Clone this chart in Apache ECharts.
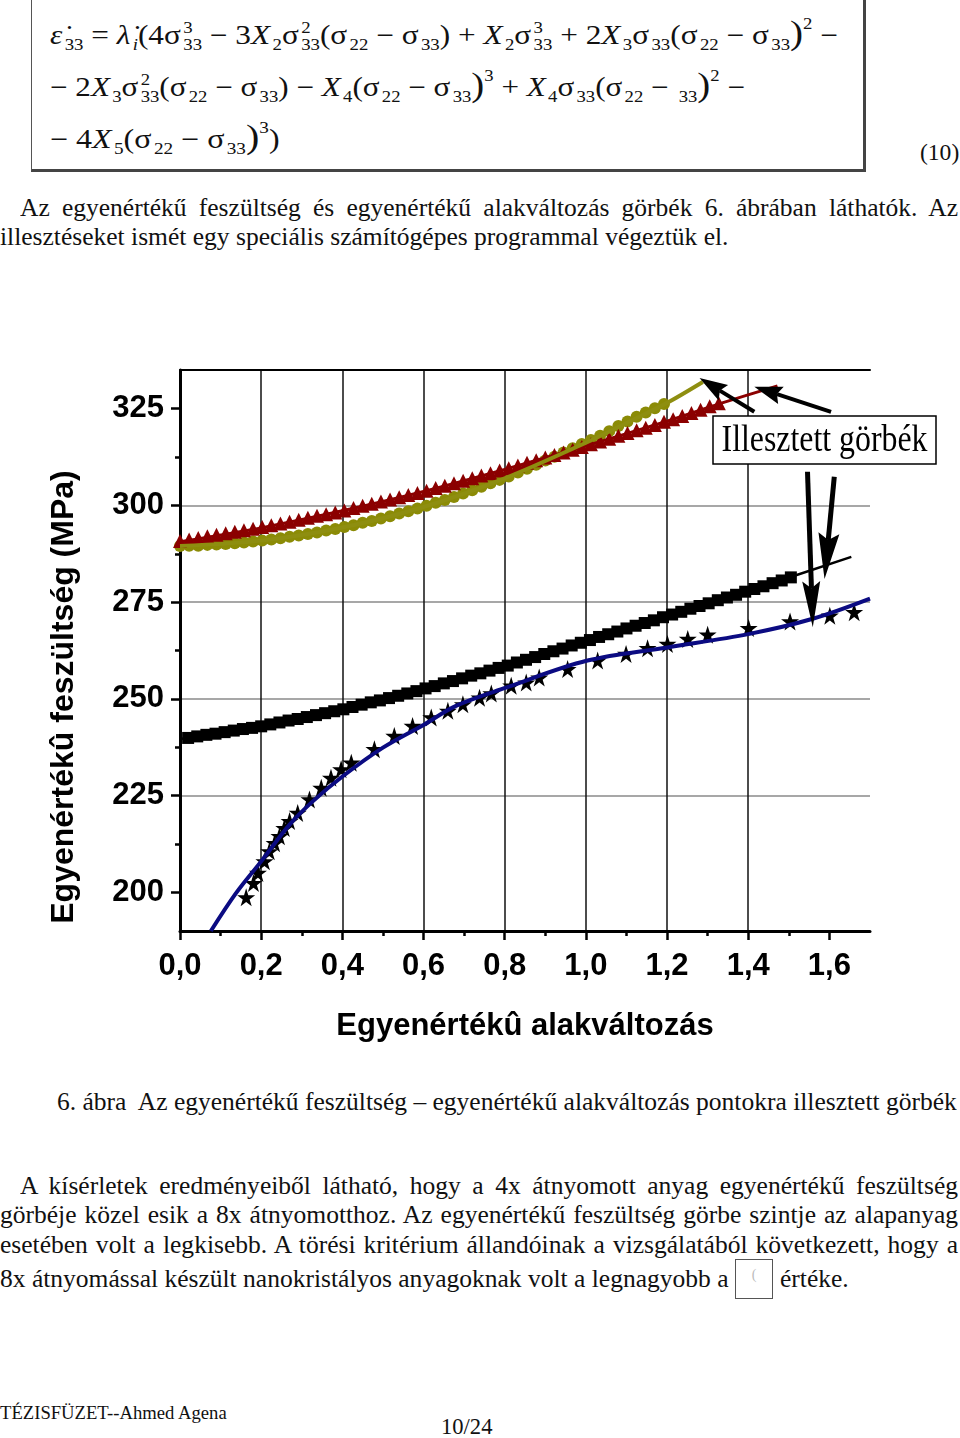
<!DOCTYPE html>
<html>
<head>
<meta charset="utf-8">
<script src="https://cdn.jsdelivr.net/npm/echarts@6.0.0/dist/echarts.min.js"></script>
<style>
  html,body{margin:0;padding:0;background:#fff;}
  body{width:960px;height:1438px;position:relative;overflow:hidden;}
  .t{position:absolute;white-space:nowrap;font-family:'Liberation Serif','Times New Roman',serif;font-size:26px;line-height:30px;color:#111;transform-origin:0 0;}
  .j{white-space:normal;text-align:justify;text-align-last:justify;}
  .eq{position:absolute;white-space:nowrap;font-family:'Liberation Serif','Times New Roman',serif;font-size:27px;line-height:30px;color:#111;transform-origin:0 0;}
  .eq sub{font-size:0.6em;vertical-align:-0.4em;line-height:0;margin-left:2px;}
  .eq sup{font-size:0.6em;vertical-align:0.95em;line-height:0;}
  .ss{display:inline-block;font-size:0.6em;line-height:1.05;vertical-align:-0.4em;margin-left:2px;}
  .ss b{display:block;font-weight:normal;}
  .bp{font-size:1.25em;line-height:0;}
  #eqbox{position:absolute;left:31px;top:-2px;width:831px;height:170px;border:1.5px solid #555;border-right:3px solid #444;border-bottom:3px solid #444;}
  #imgbox{position:absolute;left:735px;top:1259px;width:36px;height:38px;border:1px solid #555;font-family:'Liberation Serif',serif;font-size:14px;color:#bbb;text-align:center;line-height:30px;}
  #chart{position:absolute;left:0;top:330px;width:960px;height:730px;}
</style>
</head>
<body>
<div id="eqbox"></div>
<div class="eq fit" data-w="788" style="left:50px;top:20px"><i>ε̇</i><sub>33</sub> = <i>λ̇</i><sub><i>i</i></sub>(4σ<span class="ss"><b>3</b><b>33</b></span> − 3<i>X</i><sub>2</sub>σ<span class="ss"><b>2</b><b>33</b></span>(σ<sub>22</sub> − σ<sub>33</sub>) + <i>X</i><sub>2</sub>σ<span class="ss"><b>3</b><b>33</b></span> + 2<i>X</i><sub>3</sub>σ<sub>33</sub>(σ<sub>22</sub> − σ<sub>33</sub><span class="bp">)</span><sup>2</sup> −</div>
<div class="eq fit" data-w="695" style="left:50px;top:72px">− 2<i>X</i><sub>3</sub>σ<span class="ss"><b>2</b><b>33</b></span>(σ<sub>22</sub> − σ<sub>33</sub>) − <i>X</i><sub>4</sub>(σ<sub>22</sub> − σ<sub>33</sub><span class="bp">)</span><sup>3</sup> + <i>X</i><sub>4</sub>σ<sub>33</sub>(σ<sub>22</sub> − <sub>33</sub><span class="bp">)</span><sup>2</sup> −</div>
<div class="eq fit" data-w="230" style="left:50px;top:124px">− 4<i>X</i><sub>5</sub>(σ<sub>22</sub> − σ<sub>33</sub><span class="bp">)</span><sup>3</sup>)</div>
<div class="t" style="left:920px;top:137px;font-size:24px">(10)</div>

<div class="t j" data-w="938" style="left:20px;top:193px">Az egyenértékű feszültség és egyenértékű alakváltozás görbék 6. ábrában láthatók. Az</div>
<div class="t" style="left:0px;top:222px">illesztéseket ismét egy speciális számítógépes programmal végeztük el.</div>

<div id="chart"></div>

<div class="t" id="cap" style="left:57px;top:1087px">6. ábra&nbsp; Az egyenértékű feszültség – egyenértékű alakváltozás pontokra illesztett görbék</div>

<div class="t j" data-w="938" style="left:20px;top:1171px">A kísérletek eredményeiből látható, hogy a 4x átnyomott anyag egyenértékű feszültség</div>
<div class="t j" data-w="958" style="left:0px;top:1200px">görbéje közel esik a 8x átnyomotthoz. Az egyenértékű feszültség görbe szintje az alapanyag</div>
<div class="t j" data-w="958" style="left:0px;top:1230px">esetében volt a legkisebb. A törési kritérium állandóinak a vizsgálatából következett, hogy a</div>
<div class="t" style="left:0px;top:1264px">8x átnyomással készült nanokristályos anyagoknak volt a legnagyobb a</div>
<div id="imgbox">(</div>
<div class="t" style="left:780px;top:1264px">értéke.</div>

<div class="t" style="left:0px;top:1402px;font-size:19px;line-height:22px">TÉZISFÜZET--Ahmed Agena</div>
<div class="t" style="left:441px;top:1414px;font-size:23px;line-height:26px">10/24</div>

<script>
// ---------- data ----------
const xMajorTicks = [0, 0.2, 0.4, 0.6, 0.8, 1.0, 1.2, 1.4, 1.6];
const xMinorTicks = [0.1, 0.3, 0.5, 0.7, 0.9, 1.1, 1.3, 1.5];
const yMajorTicks = [200, 225, 250, 275, 300, 325];
const yMinorTicks = [212.5, 237.5, 262.5, 287.5, 312.5];

// dark red triangles
const triStrain = [0, 0.0225, 0.045, 0.0675, 0.09, 0.1125, 0.135, 0.1575, 0.18, 0.2025, 0.225, 0.2475, 0.27, 0.2925, 0.315, 0.3375, 0.36, 0.3825, 0.405, 0.4275, 0.45, 0.4725, 0.495, 0.5175, 0.54, 0.5625, 0.585, 0.6075, 0.63, 0.6525, 0.675, 0.6975, 0.72, 0.7425, 0.765, 0.7875, 0.81, 0.8325, 0.855, 0.8775, 0.9, 0.9225, 0.945, 0.9675, 0.99, 1.0125, 1.035, 1.0575, 1.08, 1.1025, 1.125, 1.1475, 1.17, 1.1925, 1.215, 1.2375, 1.26, 1.2825, 1.305, 1.3275];
const triStress = [290.8, 291.2, 291.6, 292.0, 292.4, 292.8, 293.2, 293.6, 294.0, 294.4, 294.9, 295.3, 295.8, 296.3, 296.8, 297.3, 297.7, 298.2, 298.7, 299.3, 299.9, 300.4, 301.0, 301.5, 302.1, 302.7, 303.2, 303.8, 304.5, 305.1, 305.7, 306.4, 307.0, 307.7, 308.3, 309.0, 309.6, 310.3, 311.0, 311.7, 312.4, 313.0, 313.7, 314.4, 315.1, 315.8, 316.5, 317.2, 318.0, 318.7, 319.4, 320.1, 320.8, 321.6, 322.3, 323.1, 323.9, 324.7, 325.6, 326.4];

// olive circles
const cirStrain = [0, 0.0225, 0.045, 0.0675, 0.09, 0.1125, 0.135, 0.1575, 0.18, 0.2025, 0.225, 0.2475, 0.27, 0.2925, 0.315, 0.3375, 0.36, 0.3825, 0.405, 0.4275, 0.45, 0.4725, 0.495, 0.5175, 0.54, 0.5625, 0.585, 0.6075, 0.63, 0.6525, 0.675, 0.6975, 0.72, 0.7425, 0.765, 0.7875, 0.81, 0.8325, 0.855, 0.8775, 0.9, 0.9225, 0.945, 0.9675, 0.99, 1.0125, 1.035, 1.0575, 1.08, 1.1025, 1.125, 1.1475, 1.17, 1.1925];
const cirStress = [289.5, 289.6, 289.6, 289.8, 289.9, 290.0, 290.2, 290.4, 290.7, 290.9, 291.2, 291.5, 291.9, 292.2, 292.6, 293.0, 293.5, 293.9, 294.4, 294.9, 295.5, 296.0, 296.6, 297.2, 297.9, 298.5, 299.2, 299.9, 300.7, 301.4, 302.2, 303.1, 303.9, 304.8, 305.7, 306.6, 307.5, 308.5, 309.5, 310.5, 311.6, 312.6, 313.7, 314.8, 315.9, 316.9, 318.0, 319.2, 320.5, 321.7, 322.9, 324.0, 325.1, 326.2];

// black squares
const sqStrain = [0.02, 0.0425, 0.065, 0.0875, 0.11, 0.1325, 0.155, 0.1775, 0.2, 0.2225, 0.245, 0.2675, 0.29, 0.3125, 0.335, 0.3575, 0.38, 0.4025, 0.425, 0.4475, 0.47, 0.4925, 0.515, 0.5375, 0.56, 0.5825, 0.605, 0.6275, 0.65, 0.6725, 0.695, 0.7175, 0.74, 0.7625, 0.785, 0.8075, 0.83, 0.8525, 0.875, 0.8975, 0.92, 0.9425, 0.965, 0.9875, 1.01, 1.0325, 1.055, 1.0775, 1.1, 1.1225, 1.145, 1.1675, 1.19, 1.2125, 1.235, 1.2575, 1.28, 1.3025, 1.325, 1.3475, 1.37, 1.3925, 1.415, 1.4375, 1.46, 1.4825, 1.505];
const sqStress = [239.9, 240.3, 240.7, 241.0, 241.4, 241.8, 242.2, 242.5, 242.9, 243.4, 243.9, 244.4, 244.8, 245.3, 245.8, 246.3, 246.8, 247.3, 247.9, 248.5, 249.1, 249.6, 250.2, 250.8, 251.4, 252.0, 252.7, 253.3, 254.0, 254.6, 255.3, 256.0, 256.6, 257.3, 258.0, 258.6, 259.4, 260.1, 260.8, 261.6, 262.3, 263.0, 263.8, 264.5, 265.2, 266.0, 266.7, 267.4, 268.2, 268.9, 269.6, 270.3, 271.1, 271.8, 272.5, 273.3, 274.0, 274.7, 275.5, 276.2, 276.9, 277.7, 278.4, 279.1, 279.9, 280.6, 281.4];

// black stars
const starStrain = [0.163, 0.181, 0.192, 0.208, 0.220, 0.233, 0.245, 0.257, 0.270, 0.290, 0.319, 0.348, 0.372, 0.397, 0.422, 0.479, 0.528, 0.573, 0.619, 0.660, 0.697, 0.738, 0.767, 0.816, 0.853, 0.885, 0.955, 1.029, 1.099, 1.152, 1.201, 1.251, 1.300, 1.401, 1.503, 1.601, 1.661];
const starStress = [198.7, 202.4, 205.0, 208.0, 210.6, 212.7, 214.5, 216.6, 218.4, 220.5, 224.0, 227.0, 229.6, 231.8, 233.5, 237.0, 240.4, 243.0, 245.2, 246.9, 248.6, 250.3, 251.4, 253.4, 254.2, 255.5, 257.7, 259.9, 261.6, 263.1, 264.2, 265.5, 266.6, 268.3, 270.0, 271.5, 272.4];

// fitted curves ("Illesztett görbék")
const redFitStrain = [0, 0.2, 0.4, 0.6, 0.8, 1.0, 1.2, 1.33, 1.472];
const redFitStress = [290.6, 294.2, 298.6, 303.6, 309.3, 315.4, 321.8, 326.3, 330.9];
const oliveFitStrain = [0, 0.2, 0.4, 0.6, 0.8, 1.0, 1.1, 1.2, 1.288];
const oliveFitStress = [289.5, 290.9, 294.3, 299.6, 307.0, 316.2, 321.3, 326.5, 331.9];
const blackFitStrain = [0, 0.2, 0.4, 0.6, 0.8, 1.0, 1.2, 1.4, 1.654];
const blackFitStress = [239.6, 242.9, 247.2, 252.5, 258.4, 264.9, 271.4, 277.9, 286.7];
const blueFitStrain = [0.076, 0.138, 0.200, 0.270, 0.327, 0.401, 0.500, 0.602, 0.680, 0.803, 1.004, 1.201, 1.403, 1.559, 1.700];
const blueFitStress = [190.0, 199.8, 208.0, 217.5, 223.5, 230.0, 237.4, 243.4, 248.2, 252.9, 259.9, 263.3, 266.8, 270.7, 275.9];

// annotation arrows (data coordinates: tail -> tip)
const arrowTails = [[1.415, 324.2], [1.604, 324.2], [1.546, 308.7], [1.612, 307.4]];
const arrowTips  = [[1.280, 332.9], [1.415, 330.7], [1.559, 268.5], [1.588, 281.0]];
const arrowHeads = [[28, 18], [28, 18], [46, 18], [46, 21]];

const xTitle = 'Egyenértékû alakváltozás';
const yTitle = 'Egyenértékû feszültség (MPa)';
const noteText = 'Illesztett görbék';

// ---------- page text fitting ----------
(function fitText(){
  const cap = document.getElementById('cap');
  const s = 900 / cap.offsetWidth;
  document.querySelectorAll('.t').forEach(el => {
    if (el.classList.contains('j')) el.style.width = (+el.dataset.w / s) + 'px';
    el.style.transform = 'scaleX(' + s + ')';
  });
  document.querySelectorAll('.fit').forEach(el => {
    const k = +el.dataset.w / el.offsetWidth;
    el.style.transform = 'scaleX(' + k + ')';
  });
})();

// ---------- chart ----------
const zip = (a, b) => a.map((v, i) => [v, b[i]]);
const FONT = "'Liberation Sans', Arial, sans-serif";
const STAR = 'path://M50,0 L61.2,34.5 L97.6,34.5 L68.2,55.9 L79.4,90.5 L50,69.1 L20.6,90.5 L31.8,55.9 L2.4,34.5 L38.8,34.5 Z';

const chart = echarts.init(document.getElementById('chart'), null, {renderer: 'canvas'});
const labelStyle = {fontFamily: FONT, fontWeight: 'bold', fontSize: 31, color: '#000'};

const option = {
  animation: false,
  backgroundColor: 'transparent',
  grid: {left: 180, top: 40, width: 690, height: 561, containLabel: false, outerBoundsMode: 'none'},
  xAxis: [
    {
      type: 'value', min: 0, max: 1.7, position: 'bottom',
      name: xTitle, nameLocation: 'middle', nameGap: 80,
      nameTextStyle: {fontFamily: FONT, fontWeight: 'bold', fontSize: 31, color: '#000'},
      axisLine: {show: true, onZero: false, lineStyle: {color: '#000', width: 3}},
      axisTick: {show: true, customValues: xMajorTicks, length: 9, lineStyle: {color: '#000', width: 2.5}},
      axisLabel: Object.assign({customValues: xMajorTicks, margin: 20,
        formatter: v => v.toFixed(1).replace('.', ',')}, labelStyle),
      splitLine: {show: true, showMinLine: false, showMaxLine: false, lineStyle: {color: '#111', width: 1.5}}
    },
    {
      type: 'value', min: 0, max: 1.7, position: 'bottom',
      axisLine: {show: false, onZero: false},
      axisTick: {show: true, customValues: xMinorTicks, length: 5, lineStyle: {color: '#000', width: 2.5}},
      axisLabel: {show: false}, splitLine: {show: false}
    },
    {
      type: 'value', min: 0, max: 1.7, position: 'top',
      axisLine: {show: true, onZero: false, lineStyle: {color: '#000', width: 2}},
      axisTick: {show: false}, axisLabel: {show: false}, splitLine: {show: false}
    }
  ],
  yAxis: [
    {
      type: 'value', min: 190, max: 335, position: 'left',
      axisLine: {show: true, onZero: false, lineStyle: {color: '#000', width: 3}},
      axisTick: {show: true, customValues: yMajorTicks, length: 9, lineStyle: {color: '#000', width: 2.5}},
      axisLabel: Object.assign({customValues: yMajorTicks, margin: 16}, labelStyle),
      splitLine: {show: true, showMinLine: false, showMaxLine: false, lineStyle: {color: '#8a8a8a', width: 1.5}}
    },
    {
      type: 'value', min: 190, max: 335, position: 'left',
      axisLine: {show: false, onZero: false},
      axisTick: {show: true, customValues: yMinorTicks, length: 5, lineStyle: {color: '#000', width: 2.5}},
      axisLabel: {show: false}, splitLine: {show: false}
    }
  ],
  series: [
    {type: 'scatter', name: 'olive', data: zip(cirStrain, cirStress), symbol: 'circle', symbolSize: 12,
     itemStyle: {color: '#8b8b06', opacity: 1}, z: 2},
    {type: 'scatter', name: 'red', data: zip(triStrain, triStress), symbol: 'triangle', symbolSize: [14, 14],
     itemStyle: {color: '#8b0000', opacity: 1}, z: 2},
    {type: 'scatter', name: 'black', data: zip(sqStrain, sqStress), symbol: 'rect', symbolSize: 12,
     itemStyle: {color: '#000', opacity: 1}, z: 2},
    {type: 'scatter', name: 'stars', data: zip(starStrain, starStress), symbol: STAR, symbolSize: 18,
     itemStyle: {color: '#000', opacity: 1}, z: 2},
    {type: 'line', name: 'redFit', data: zip(redFitStrain, redFitStress), showSymbol: false, smooth: 0.3,
     lineStyle: {color: '#8b0000', width: 3}, z: 3},
    {type: 'line', name: 'oliveFit', data: zip(oliveFitStrain, oliveFitStress), showSymbol: false, smooth: 0.3,
     lineStyle: {color: '#8e8e10', width: 4}, z: 3},
    {type: 'line', name: 'blackFit', data: zip(blackFitStrain, blackFitStress), showSymbol: false, smooth: 0.3,
     lineStyle: {color: '#000', width: 2.5}, z: 3},
    {type: 'line', name: 'blueFit', data: zip(blueFitStrain, blueFitStress), showSymbol: false, smooth: 0.35,
     lineStyle: {color: '#0b0b82', width: 4}, z: 3}
  ]
};
chart.setOption(option);

// annotations: y title, note box, arrows
const g = [];
g.push({type: 'text', x: 64, y: 367, rotation: Math.PI / 2, z: 50,
  style: {text: yTitle, font: "bold 32px 'Liberation Sans', Arial, sans-serif", fill: '#000',
          textAlign: 'center', textVerticalAlign: 'middle'}});
g.push({type: 'rect', shape: {x: 713, y: 86, width: 223, height: 48}, z: 60,
  style: {fill: '#fff', stroke: '#000', lineWidth: 1.5}});
g.push({type: 'text', x: 824.5, y: 111, scaleX: 0.86, z: 61,
  style: {text: noteText, font: "37px 'Liberation Serif', 'Times New Roman', serif", fill: '#000',
          textAlign: 'center', textVerticalAlign: 'middle'}});
arrowTails.forEach((tail, i) => {
  const p0 = chart.convertToPixel({xAxisIndex: 0, yAxisIndex: 0}, tail);
  const p1 = chart.convertToPixel({xAxisIndex: 0, yAxisIndex: 0}, arrowTips[i]);
  const [L, W] = arrowHeads[i];
  const dx = p1[0] - p0[0], dy = p1[1] - p0[1];
  const len = Math.hypot(dx, dy);
  const ux = dx / len, uy = dy / len, px = -uy, py = ux;
  const bx = p1[0] - ux * L, by = p1[1] - uy * L;
  const nx = p1[0] - ux * L * 0.85, ny = p1[1] - uy * L * 0.85;
  g.push({type: 'line', z: 70, shape: {x1: p0[0], y1: p0[1], x2: nx, y2: ny},
    style: {stroke: '#000', lineWidth: i < 2 ? 4 : 5}});
  g.push({type: 'polygon', z: 70, shape: {points: [
      [p1[0], p1[1]], [bx + px * W / 2, by + py * W / 2], [nx, ny], [bx - px * W / 2, by - py * W / 2]]},
    style: {fill: '#000'}});
});
chart.setOption({graphic: g});
</script>
</body>
</html>
